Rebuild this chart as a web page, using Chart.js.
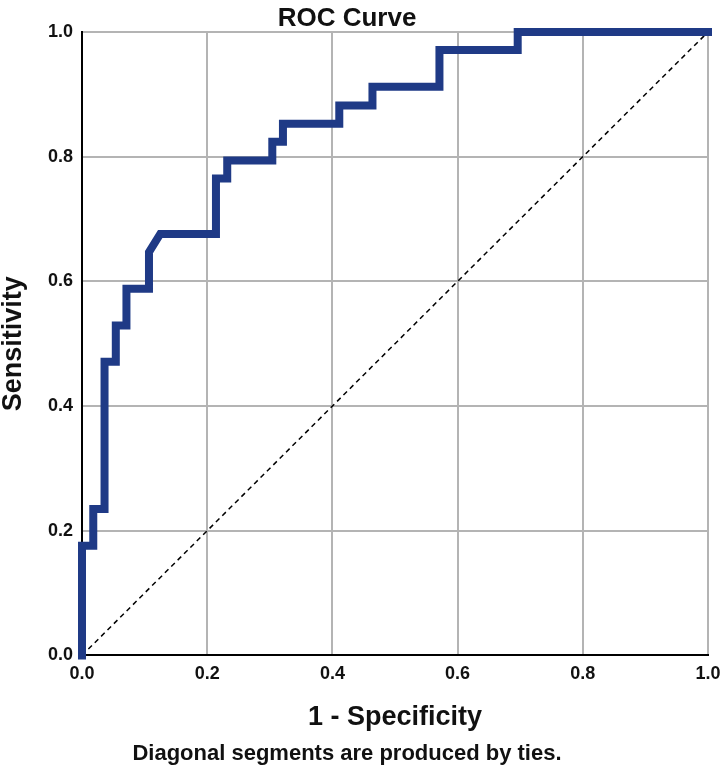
<!DOCTYPE html>
<html>
<head>
<meta charset="utf-8">
<script src="https://cdn.jsdelivr.net/npm/chart.js@4.4.1/dist/chart.umd.min.js"></script>
<style>
  html, body { margin: 0; padding: 0; background: #fff; }
  #wrap { width: 720px; height: 781px; }
</style>
</head>
<body>
<div id="wrap"><canvas id="rocChart" width="720" height="781"></canvas></div>
<script>
// ROC curve corners (1 - specificity, sensitivity)
const fprValues = [0, 0, 0.018, 0.018, 0.036, 0.036, 0.054, 0.054, 0.071, 0.071,
    0.107, 0.107, 0.125, 0.214, 0.214, 0.232, 0.232, 0.304, 0.304, 0.321,
    0.321, 0.411, 0.411, 0.464, 0.464, 0.571, 0.571, 0.696, 0.696, 1];
const tprValues = [0, 0.176, 0.176, 0.235, 0.235, 0.471, 0.471, 0.529, 0.529, 0.588,
    0.588, 0.647, 0.676, 0.676, 0.765, 0.765, 0.794, 0.794, 0.824, 0.824,
    0.853, 0.853, 0.882, 0.882, 0.912, 0.912, 0.971, 0.971, 1, 1];
const refLineX = [0, 1];
const refLineY = [0, 1];
const tickValues = [0, 0.2, 0.4, 0.6, 0.8, 1.0];

const toPoints = (xs, ys) => xs.map((x, i) => ({ x: x, y: ys[i] }));

const FONT = "'Liberation Sans', Arial, sans-serif";
const gridColor = '#b4b4b4';
const SHIFT = 26; // title and footer sit a bit left of the page centre

const fixedTicks = (scale) => {
    scale.ticks = tickValues.map(v => ({ value: v }));
};

const ctx = document.getElementById('rocChart').getContext('2d');
const rocChart = new Chart(ctx, {
    type: 'scatter',
    data: {
        datasets: [{
            label: 'ROC',
            data: toPoints(fprValues, tprValues),
            showLine: true,
            borderColor: '#1f3a86',
            borderWidth: 8,
            borderJoinStyle: 'miter',
            borderCapStyle: 'square',
            pointRadius: 0,
            tension: 0,
            clip: false
        }, {
            label: 'Reference',
            data: toPoints(refLineX, refLineY),
            showLine: true,
            borderColor: '#000',
            borderWidth: 1.5,
            borderDash: [5, 4],
            pointRadius: 0,
            clip: false
        }]
    },
    options: {
        responsive: false,
        animation: false,
        devicePixelRatio: 1,
        layout: { padding: { left: -SHIFT, right: 0, top: 0, bottom: 0 } },
        plugins: {
            legend: { display: false },
            tooltip: { enabled: false },
            title: {
                display: true,
                text: 'ROC Curve',
                color: '#111',
                font: { family: FONT, size: 26, weight: 'bold', lineHeight: 1 },
                padding: { top: 6, bottom: 0 }
            },
            subtitle: {
                display: true,
                position: 'bottom',
                text: 'Diagonal segments are produced by ties.',
                color: '#111',
                font: { family: FONT, size: 22, weight: 'bold', lineHeight: 1 },
                padding: { top: 12, bottom: 16 }
            }
        },
        scales: {
            x: {
                type: 'linear',
                min: 0,
                max: 1,
                afterBuildTicks: fixedTicks,
                afterFit: (scale) => { scale.paddingRight = 12; },
                border: { color: '#000', width: 2 },
                grid: { color: gridColor, lineWidth: 2, drawTicks: false },
                ticks: {
                    color: '#111',
                    padding: 8,
                    font: { family: FONT, size: 18, weight: 'bold' },
                    callback: v => v.toFixed(1)
                },
                title: {
                    display: true,
                    text: '1 - Specificity',
                    color: '#111',
                    font: { family: FONT, size: 27, weight: 'bold', lineHeight: 1 },
                    padding: { top: 11, bottom: 0 }
                }
            },
            y: {
                type: 'linear',
                min: 0,
                max: 1,
                afterBuildTicks: fixedTicks,
                afterFit: (scale) => { scale.width = 82 + SHIFT; },
                border: { color: '#000', width: 2 },
                grid: { color: gridColor, lineWidth: 2, drawTicks: false },
                ticks: {
                    color: '#111',
                    padding: 9,
                    font: { family: FONT, size: 18, weight: 'bold' },
                    callback: v => v.toFixed(1)
                },
                title: {
                    display: true,
                    text: 'Sensitivity',
                    color: '#111',
                    font: { family: FONT, size: 27, weight: 'bold', lineHeight: 1 },
                    padding: { top: SHIFT, bottom: 0 }
                }
            }
        }
    }
});
</script>
</body>
</html>
